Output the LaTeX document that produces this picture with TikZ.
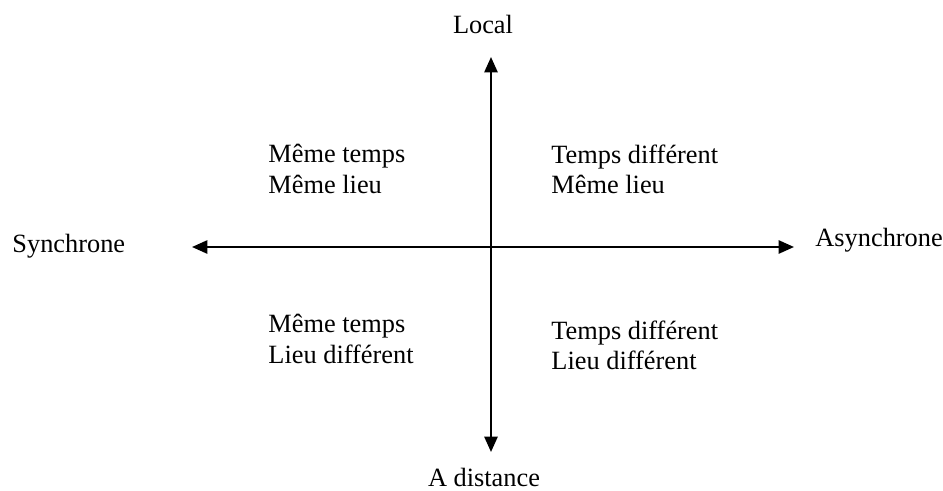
\documentclass[tikz,border=0pt]{standalone}
\usepackage{fontspec}
\setmainfont{Liberation Serif}
\usetikzlibrary{arrows.meta,positioning}

\begin{document}
\begin{tikzpicture}[x=0.016cm,y=-0.016cm,
    lbl/.style={inner sep=0pt,font=\fontsize{12}{13.8}\selectfont},
    quad/.style={lbl,anchor=west,align=left},
    axe/.style={{Triangle[length=7pt,width=6pt]}-{Triangle[length=7pt,width=6pt]},line width=1pt}]
\useasboundingbox (0,0) rectangle (943,490);
        % axes
\coordinate (haut) at (491,57);
\coordinate (bas) at (491,452);
\coordinate (gauche) at (192,247);
\coordinate (droite) at (794,247);
\draw[axe] (haut) -- (bas);
\draw[axe] (gauche) -- (droite);

\node[lbl,anchor=base] (local) at (483,33) {Local};
\node[lbl,anchor=base] (distance) at (484,486) {A distance};
\node[lbl,anchor=base west] (sync) at (12,252) {Synchrone};
\node[lbl,anchor=base west] (async) at (815,246) {Asynchrone};

        % quadrants
\node[quad] (q1) at (268,169) {Même temps\\Même lieu};
\node[quad] (q2) at (551,169) {Temps différent\\Même lieu};
\node[quad] (q3) at (268,339) {Même temps\\Lieu différent};
\node[quad] (q4) at (551,345) {Temps différent\\Lieu différent};
    \end{tikzpicture}
\end{document}
